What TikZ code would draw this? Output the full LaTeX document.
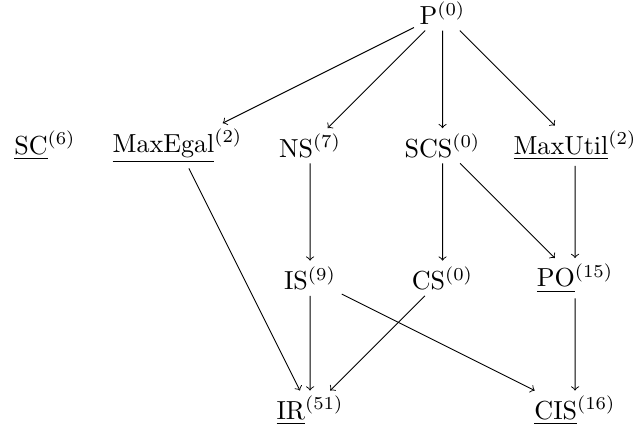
\documentclass[tikz,border=0pt]{standalone}
\begin{document}
\begin{tikzpicture}[
  lbl/.style={inner sep=2pt, scale=1.12, transform shape},
  arr/.style={->}
]
\useasboundingbox (-0.68,0.2) rectangle (8.89,-6.32);
\node[lbl] (P) at (6,0) {P$^{(0)}$};
\node[lbl] (SC) at (0,-2) {\underline{SC}$^{(6)}$};
\node[lbl] (ME) at (2,-2) {\underline{MaxEgal}$^{(2)}$};
\node[lbl] (NS) at (4,-2) {NS$^{(7)}$};
\node[lbl] (SCS) at (6,-2) {SCS$^{(0)}$};
\node[lbl] (MU) at (8,-2) {\underline{MaxUtil}$^{(2)}$};
\node[lbl] (IS) at (4,-4) {IS$^{(9)}$};
\node[lbl] (CS) at (6,-4) {CS$^{(0)}$};
\node[lbl] (PO) at (8,-4) {\underline{PO}$^{(15)}$};
\node[lbl] (IR) at (4,-6) {\underline{IR}$^{(51)}$};
\node[lbl] (CIS) at (8,-6) {\underline{CIS}$^{(16)}$};
\draw[arr] (P) -- (ME);
\draw[arr] (P) -- (NS);
\draw[arr] (P) -- (SCS);
\draw[arr] (P) -- (MU);
\draw[arr] (ME) -- (IR);
\draw[arr] (NS) -- (IS);
\draw[arr] (SCS) -- (CS);
\draw[arr] (SCS) -- (PO);
\draw[arr] (MU) -- (PO);
\draw[arr] (IS) -- (IR);
\draw[arr] (IS) -- (CIS);
\draw[arr] (CS) -- (IR);
\draw[arr] (PO) -- (CIS);
\end{tikzpicture}
\end{document}
